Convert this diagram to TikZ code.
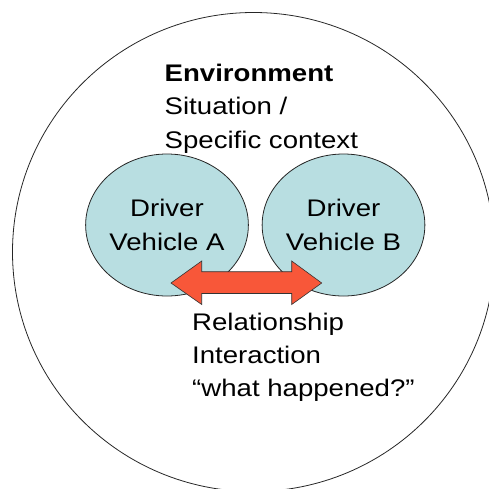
\documentclass[tikz,border=0pt]{standalone}
\usepackage{fontspec}
\setmainfont[FakeStretch=1.15]{Liberation Sans}
\usetikzlibrary{shapes.geometric}
\definecolor{bubble}{RGB}{184,222,225}
\definecolor{arrowfill}{RGB}{248,87,57}
\tikzset{
  txt/.style={anchor=base west, inner sep=0pt, font=\fontsize{24}{33.7}\selectfont},
  agent/.style={ellipse, draw=black!85, line width=0.8pt, fill=bubble,
    minimum width=150pt, minimum height=142pt, align=center, inner sep=0pt,
    font=\fontsize{24}{34}\selectfont},
}
\begin{document}
\begin{tikzpicture}[x=1pt,y=-1pt]
  \useasboundingbox (0,0) rectangle (489,488);
  \begin{scope}
    \clip (0,0) rectangle (489,488);
    % surrounding environment
    \draw[line width=0.8pt, black!85] (253.5,252) ellipse [x radius=241, y radius=239.5];
  \end{scope}

  % the two driver/vehicle units
  \node[agent] (A) at (167,225) {Driver\\Vehicle A};
  \node[agent] (B) at (343.5,225) {Driver\\Vehicle B};

  % interaction: block double arrow between the units
  \coordinate (tipL) at (171,283);
  \coordinate (tipR) at (321.7,283);
  \draw[fill=arrowfill, draw=black!80, line width=0.6pt]
    (tipL) -- (201.7,261) -- (201.7,271.7) -- (291.7,271.7) -- (291.7,261)
    -- (tipR) -- (291.7,304.5) -- (291.7,293.5) -- (201.7,293.5) -- (201.7,304.5) -- cycle;

  % environment caption
  \node[txt, font=\fontsize{24}{33.7}\selectfont\bfseries] (env) at (164.5,81) {Environment};
  \node[txt] (sit) at (164.5,114.7) {Situation /};
  \node[txt] (ctx) at (164.5,148.4) {Specific context};

  % interaction caption
  \node[txt] (rel) at (192,330) {Relationship};
  \node[txt] (inter) at (192,363.3) {Interaction};
  \node[txt] (what) at (192,396.6) {“what happened?”};
\end{tikzpicture}
\end{document}
